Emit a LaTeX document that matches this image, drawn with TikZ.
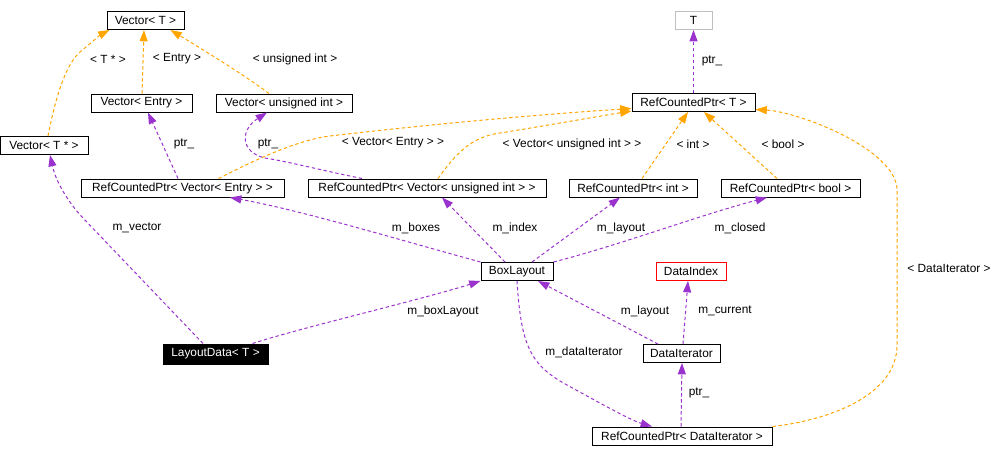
\documentclass[tikz,border=0pt]{standalone}
\usepackage{fontspec}
\setmainfont{Liberation Sans}
\usepackage{tikz}
\usetikzlibrary{arrows.meta,calc}
\definecolor{usage}{HTML}{9A32CD}
\definecolor{tmpl}{HTML}{FFA500}
\definecolor{extern}{HTML}{BFBFBF}

\begin{document}
\begin{tikzpicture}[x=0.75pt,y=-0.75pt,
    font=\fontsize{8.9}{10}\selectfont,
    cls/.style={draw, line width=0.75pt, minimum height=13.5pt, inner ysep=0pt, inner xsep=1pt, minimum width=#1*0.75pt},
    cls/.default=80,
    usedby/.style={usage, line width=0.75pt, dash pattern=on 2.5pt off 2pt, -{Triangle[length=8.5pt,width=6pt]}},
    inst/.style={tmpl, line width=0.75pt, dash pattern=on 2.5pt off 2pt, -{Triangle[length=8.5pt,width=6pt]}},
    lbl/.style={inner sep=0pt}]
    \useasboundingbox (0,0) rectangle (998,458);
    \node[cls=77] (vecT) at (145.5,20.5) {Vector< T >};
    \node[cls=101] (vecEntry) at (141.5,103) {Vector< Entry >};
    \node[cls=136] (vecUInt) at (284,103) {Vector< unsigned int >};
    \node[cls=88] (vecTp) at (44,145.5) {Vector< T * >};
    \node[cls=203] (rcpVecEntry) at (182.5,188) {RefCountedPtr< Vector< Entry > >};
    \node[cls=238] (rcpVecUInt) at (427,188) {RefCountedPtr< Vector< unsigned int > >};
    \node[cls=128] (rcpInt) at (633,188) {RefCountedPtr< int >};
    \node[cls=139] (rcpBool) at (790.5,188) {RefCountedPtr< bool >};
    \node[cls=37, draw=extern] (T) at (693.5,20.5) {T};
    \node[cls=123] (rcpT) at (693.5,102.5) {RefCountedPtr< T >};
    \node[cls=72] (boxLayout) at (517,271.5) {BoxLayout};
    \node[cls=70, draw=red] (dataIndex) at (691,271.5) {DataIndex};
    \node[cls=105, fill=black, text=white, minimum height=15pt] (layoutData) at (215.5,354) {LayoutData< T >};
    \node[cls=77] (dataIter) at (681.5,353.5) {DataIterator};
    \node[cls=180] (rcpDataIter) at (682,436) {RefCountedPtr< DataIterator >};

    \draw[inst] ($(vecTp.north)+(4,0)$) .. controls (55,100) and (65,65) .. (80,52) .. controls (92,42) and (100,35) .. ($(vecT.south west)+(3,0)$);
    \draw[inst] ($(vecEntry.north)+(0.5,0)$) -- ($(vecT.south)+(-1.5,0)$);
    \draw[inst] ($(vecUInt.north)+(-15,0)$) .. controls (240,72) and (200,48) .. ($(vecT.south east)+(-14,0)$);
    \draw[inst] ($(rcpVecEntry.north)+(36,0)$) .. controls (245,165) and (295,140) .. (330,136) .. controls (450,122) and (560,113) .. ($(rcpT.west)+(0,6)$);
    \draw[inst] ($(rcpVecUInt.north)+(11,0)$) .. controls (455,155) and (470,137) .. (500,133) .. controls (550,125) and (600,116) .. ($(rcpT.south west)+(0,-1)$);
    \draw[inst] ($(rcpInt.north)+(9,0)$) -- ($(rcpT.south)+(-5.5,0)$);
    \draw[inst] ($(rcpBool.north)+(-13.5,0)$) -- ($(rcpT.south)+(10.5,0)$);
    \draw[inst] (rcpDataIter.north east) .. controls (830,420) and (897,395) .. (897,345) -- (897,190) .. controls (897,150) and (800,112) .. ($(rcpT.east)+(0,7)$);

    \draw[usedby] (rcpT.north) -- (T.south);
    \draw[usedby] ($(rcpVecEntry.north)+(-4.5,0)$) -- ($(vecEntry.south)+(6.5,0)$);
    \draw[usedby] ($(rcpVecUInt.north)+(-65,0)$) .. controls (320,170) and (290,162) .. (265,158) .. controls (240,152) and (240,130) .. ($(vecUInt.south)+(-17,0)$);
    \draw[usedby] ($(layoutData.north)+(-12.5,0)$) -- (83,218) .. controls (68,202) and (56,182) .. ($(vecTp.south)+(6,0)$);
    \draw[usedby] ($(layoutData.north)+(37,0)$) .. controls (300,328) and (420,300) .. (boxLayout.south west);
    \draw[usedby] (boxLayout.north west) .. controls (400,240) and (300,210) .. ($(rcpVecEntry.south)+(47.5,0)$);
    \draw[usedby] ($(boxLayout.north)+(-12,0)$) -- ($(rcpVecUInt.south)+(15,0)$);
    \draw[usedby] ($(boxLayout.north)+(15,0)$) -- ($(rcpInt.south)+(-13,0)$);
    \draw[usedby] (boxLayout.north east) .. controls (620,245) and (700,215) .. ($(rcpBool.south)+(-23.5,0)$);
    \draw[usedby] ($(dataIter.north)+(-23.5,0)$) -- ($(boxLayout.south)+(21,0)$);
    \draw[usedby] ($(dataIter.north)+(1.5,0)$) -- ($(dataIndex.south)+(-3,0)$);
    \draw[usedby] (boxLayout.south) .. controls (521,345) and (530,365) .. (567,385) .. controls (600,403) and (630,420) .. ($(rcpDataIter.north)+(-30,0)$);
    \draw[usedby] ($(rcpDataIter.north)+(-1,0)$) -- ($(dataIter.south)+(0.5,0)$);

    \node[lbl] (lblTp) at (108,59) {< T * >};
    \node[lbl] (lblEntry) at (177,59) {< Entry >};
    \node[lbl] (lblUInt) at (295,59) {< unsigned int >};
    \node[lbl] (lblVecEntry) at (393,143) {< Vector< Entry > >};
    \node[lbl] (lblVecUInt) at (572,144) {< Vector< unsigned int > >};
    \node[lbl] (lblInt) at (693,144) {< int >};
    \node[lbl] (lblBool) at (783,144) {< bool >};
    \node[lbl] (lblDataIter) at (949,268) {< DataIterator >};
    \node[lbl] (lblPtrT) at (712,61) {ptr\_};
    \node[lbl] (lblPtrEntry) at (184,144) {ptr\_};
    \node[lbl] (lblPtrUInt) at (268,144) {ptr\_};
    \node[lbl] (lblVector) at (137,228) {m\_vector};
    \node[lbl] (lblBoxLayout) at (443,311) {m\_boxLayout};
    \node[lbl] (lblBoxes) at (416,228) {m\_boxes};
    \node[lbl] (lblIndex) at (515,228) {m\_index};
    \node[lbl] (lblLayout) at (621,228) {m\_layout};
    \node[lbl] (lblClosed) at (740,228) {m\_closed};
    \node[lbl] (lblLayout2) at (645,311) {m\_layout};
    \node[lbl] (lblCurrent) at (725,311) {m\_current};
    \node[lbl] (lblDataIterator) at (584,352) {m\_dataIterator};
    \node[lbl] (lblPtrIter) at (699,393) {ptr\_};
\end{tikzpicture}
\end{document}
